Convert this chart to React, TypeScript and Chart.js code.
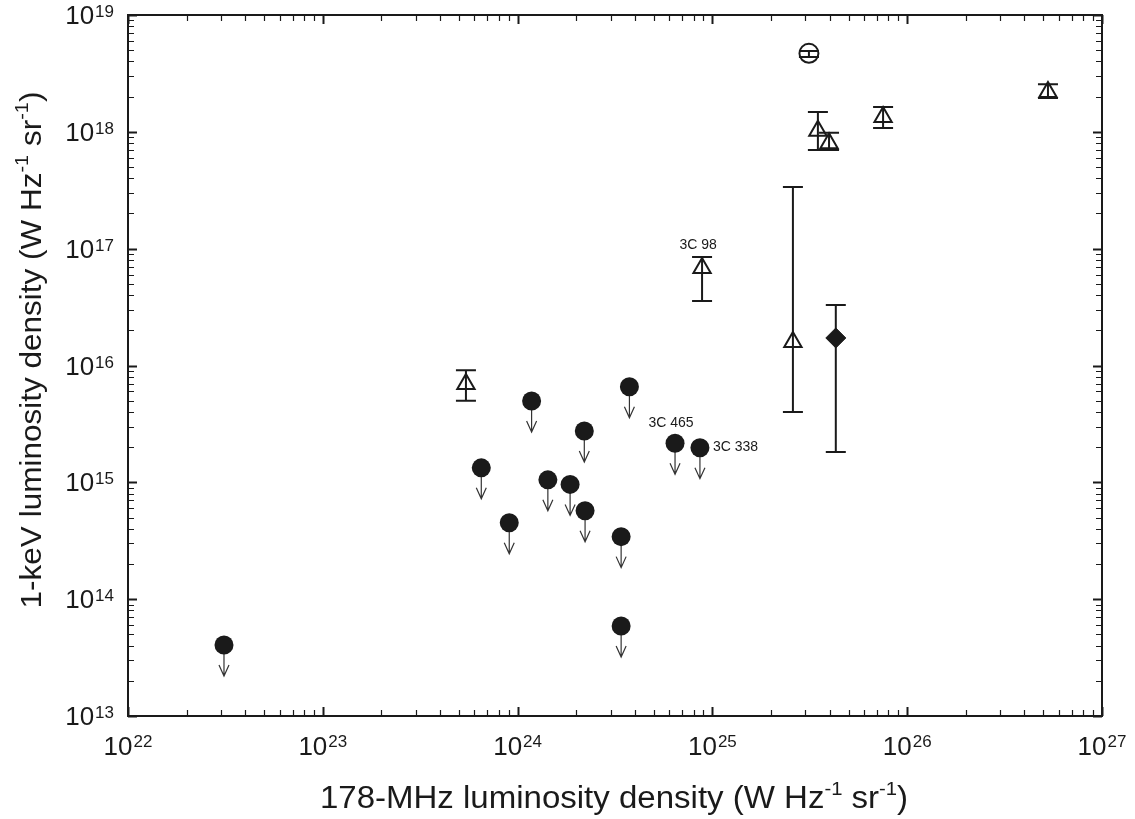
import React, { useEffect, useRef } from 'react';
import { Chart, registerables } from 'chart.js';

Chart.register(...registerables);

// Upper limits (filled circles with downward arrows)
const limitX = [3.11e22, 6.51e23, 9.06e23, 1.18e24, 1.43e24, 1.86e24, 2.2e24, 2.22e24, 3.4e24, 3.4e24, 3.75e24, 6.43e24, 8.63e24];
const limitY = [4.05e13, 1.33e15, 4.51e14, 4.97e15, 1.05e15, 9.6e14, 2.75e15, 5.72e14, 3.43e14, 5.89e13, 6.58e15, 2.16e15, 1.98e15];

// Detections (open triangles with error bars)
const triX = [5.43e23, 8.85e24, 2.59e25, 3.48e25, 3.97e25, 7.52e25, 5.28e26];
const triY = [6.95e15, 6.82e16, 1.59e16, 1.02e18, 8.0e17, 1.34e18, 2.19e18];
const triHi = [9.1e15, 8.5e16, 3.37e17, 1.48e18, 9.8e17, 1.63e18, 2.56e18];
const triLo = [5.0e15, 3.56e16, 4.0e15, 7.0e17, 7.0e17, 1.08e18, 1.95e18];

// Filled diamond
const diaX = [4.3e25];
const diaY = [1.72e16];
const diaHi = [3.3e16];
const diaLo = [1.82e15];

// Open circle
const openX = [3.13e25];
const openY = [4.7e18];
const openHi = [4.92e18];
const openLo = [4.37e18];

const xExponents = [22, 23, 24, 25, 26, 27];
const yExponents = [13, 14, 15, 16, 17, 18, 19];

const xTitleParts: [string, boolean][] = [
  ['178-MHz luminosity density (W Hz', false],
  ['-1', true],
  [' sr', false],
  ['-1', true],
  [')', false],
];
const yTitleParts: [string, boolean][] = [
  ['1-keV luminosity density (W Hz', false],
  ['-1', true],
  [' sr', false],
  ['-1', true],
  [')', false],
];

const sourceLabels = [
  { text: '3C 98', set: 'tri', index: 1 },
  { text: '3C 465', set: 'limit', index: 11 },
  { text: '3C 338', set: 'limit', index: 12 },
];

const FONT = "'Liberation Sans', Arial, Helvetica, sans-serif";
const INK = '#1a1a1a';

function drawParts(ctx: CanvasRenderingContext2D, parts: [string, boolean][], mainSize: number, supSize: number, supRise: number) {
  let w = 0;
  for (const [t, sup] of parts) {
    ctx.font = `${sup ? supSize : mainSize}px ${FONT}`;
    w += ctx.measureText(t).width;
  }
  let x = -w / 2;
  for (const [t, sup] of parts) {
    ctx.font = `${sup ? supSize : mainSize}px ${FONT}`;
    ctx.fillText(t, x, sup ? -supRise : 0);
    x += ctx.measureText(t).width;
  }
}

const decorPlugin = {
  id: 'decor',
  beforeDatasetsDraw(chart: any) {
    const ctx: CanvasRenderingContext2D = chart.ctx;
    const xs = chart.scales.x;
    const ys = chart.scales.y;
    ctx.save();
    ctx.strokeStyle = INK;
    ctx.lineWidth = 2;
    const bars = (X: number[], Hi: number[], Lo: number[]) => {
      for (let i = 0; i < X.length; i++) {
        const px = xs.getPixelForValue(X[i]);
        const ph = ys.getPixelForValue(Hi[i]);
        const pl = ys.getPixelForValue(Lo[i]);
        ctx.beginPath();
        ctx.moveTo(px, ph);
        ctx.lineTo(px, pl);
        ctx.moveTo(px - 10, ph);
        ctx.lineTo(px + 10, ph);
        ctx.moveTo(px - 10, pl);
        ctx.lineTo(px + 10, pl);
        ctx.stroke();
      }
    };
    bars(triX, triHi, triLo);
    bars(diaX, diaHi, diaLo);
    bars(openX, openHi, openLo);

    // upper-limit arrows
    ctx.lineWidth = 1.2;
    ctx.strokeStyle = '#333';
    for (let i = 0; i < limitX.length; i++) {
      const px = xs.getPixelForValue(limitX[i]);
      const py = ys.getPixelForValue(limitY[i]);
      const tip = py + 31;
      ctx.beginPath();
      ctx.moveTo(px, py);
      ctx.lineTo(px, tip);
      ctx.moveTo(px - 5, tip - 11);
      ctx.lineTo(px, tip);
      ctx.lineTo(px + 5, tip - 11);
      ctx.stroke();
    }
    ctx.restore();
  },
  afterDraw(chart: any) {
    const ctx: CanvasRenderingContext2D = chart.ctx;
    const xs = chart.scales.x;
    const ys = chart.scales.y;
    const a = chart.chartArea;
    ctx.save();
    ctx.strokeStyle = INK;
    ctx.fillStyle = INK;

    // frame
    ctx.lineWidth = 2;
    ctx.strokeRect(a.left, a.top, a.right - a.left, a.bottom - a.top);

    // ticks
    const tick = (vals: number[], major: boolean) => {
      ctx.lineWidth = major ? 2 : 1.2;
      const len = major ? 9 : 6;
      ctx.beginPath();
      for (const v of vals) {
        if (v >= 1e22 && v <= 1e27) {
          const px = Math.round(xs.getPixelForValue(v)) + 0.5;
          ctx.moveTo(px, a.bottom);
          ctx.lineTo(px, a.bottom - len);
          ctx.moveTo(px, a.top);
          ctx.lineTo(px, a.top + len);
        }
        if (v >= 1e13 && v <= 1e19) {
          const py = Math.round(ys.getPixelForValue(v)) + 0.5;
          ctx.moveTo(a.left, py);
          ctx.lineTo(a.left + len, py);
          ctx.moveTo(a.right, py);
          ctx.lineTo(a.right - len, py);
        }
      }
      ctx.stroke();
    };
    const majors: number[] = [];
    const minors: number[] = [];
    for (let e = 13; e <= 27; e++) {
      majors.push(Math.pow(10, e));
      if (e < 27) for (let m = 2; m <= 9; m++) minors.push(m * Math.pow(10, e));
    }
    tick(minors, false);
    tick(majors, true);

    // tick labels
    const MAIN = 26;
    const SUP = 17;
    const GAP = 1;
    ctx.textBaseline = 'alphabetic';
    ctx.textAlign = 'left';
    for (const e of xExponents) {
      const px = xs.getPixelForValue(Math.pow(10, e));
      ctx.font = `${MAIN}px ${FONT}`;
      const w1 = ctx.measureText('10').width;
      ctx.font = `${SUP}px ${FONT}`;
      const w2 = ctx.measureText(String(e)).width;
      const x0 = px - (w1 + GAP + w2) / 2;
      ctx.font = `${MAIN}px ${FONT}`;
      ctx.fillText('10', x0, a.bottom + 39);
      ctx.font = `${SUP}px ${FONT}`;
      ctx.fillText(String(e), x0 + w1 + GAP, a.bottom + 31);
    }
    for (const e of yExponents) {
      const py = ys.getPixelForValue(Math.pow(10, e));
      ctx.font = `${SUP}px ${FONT}`;
      const w2 = ctx.measureText(String(e)).width;
      ctx.font = `${MAIN}px ${FONT}`;
      const w1 = ctx.measureText('10').width;
      const right = a.left - 14;
      ctx.fillText('10', right - w2 - GAP - w1, py + 9);
      ctx.font = `${SUP}px ${FONT}`;
      ctx.fillText(String(e), right - w2, py + 2);
    }

    // axis titles
    ctx.save();
    ctx.translate(614, 808);
    ctx.scale(1.065, 1);
    drawParts(ctx, xTitleParts, 31, 19, 13);
    ctx.restore();
    ctx.save();
    ctx.translate(41, 350);
    ctx.rotate(-Math.PI / 2);
    ctx.scale(1.05, 1);
    drawParts(ctx, yTitleParts, 30, 19, 13);
    ctx.restore();

    // source labels
    ctx.font = `14px ${FONT}`;
    for (const l of sourceLabels) {
      const X = l.set === 'tri' ? triX : limitX;
      const Y = l.set === 'tri' ? triY : limitY;
      const px = xs.getPixelForValue(X[l.index]);
      const py = ys.getPixelForValue(Y[l.index]);
      if (l.text === '3C 98') {
        ctx.textAlign = 'center';
        ctx.fillText(l.text, px - 4, py - 19);
      } else if (l.text === '3C 465') {
        ctx.textAlign = 'center';
        ctx.fillText(l.text, px - 4, py - 16);
      } else {
        ctx.textAlign = 'left';
        ctx.fillText(l.text, px + 13, py + 3);
      }
    }
    ctx.restore();
  },
};

export default function App() {
  const ref = useRef<HTMLCanvasElement>(null);
  useEffect(() => {
    if (!ref.current) return;
    const toPts = (X: number[], Y: number[]) => X.map((x, i) => ({ x, y: Y[i] }));
    const chart = new Chart(ref.current, {
      type: 'scatter',
      data: {
        datasets: [
          {
            label: 'upper limits',
            data: toPts(limitX, limitY),
            pointStyle: 'circle',
            pointRadius: 9.5,
            pointBackgroundColor: INK,
            pointBorderColor: INK,
            pointBorderWidth: 0,
          },
          {
            label: 'triangles',
            data: toPts(triX, triY),
            pointStyle: 'triangle',
            pointRadius: 10,
            pointBackgroundColor: 'rgba(0,0,0,0)',
            pointBorderColor: INK,
            pointBorderWidth: 2,
          },
          {
            label: 'diamond',
            data: toPts(diaX, diaY),
            pointStyle: 'rectRot',
            pointRadius: 10,
            pointBackgroundColor: INK,
            pointBorderColor: INK,
            pointBorderWidth: 1,
          },
          {
            label: 'open circle',
            data: toPts(openX, openY),
            pointStyle: 'circle',
            pointRadius: 9.5,
            pointBackgroundColor: 'rgba(0,0,0,0)',
            pointBorderColor: INK,
            pointBorderWidth: 2,
          },
        ],
      },
      options: {
        responsive: false,
        devicePixelRatio: 1,
        animation: false,
        layout: { padding: { left: 128, right: 33, top: 15, bottom: 103 } },
        plugins: { legend: { display: false }, tooltip: { enabled: false } },
        scales: {
          x: { type: 'logarithmic', min: 1e22, max: 1e27, display: false },
          y: { type: 'logarithmic', min: 1e13, max: 1e19, display: false },
        },
      },
      plugins: [decorPlugin],
    });
    return () => chart.destroy();
  }, []);
  return (
    <div style={{ position: 'absolute', left: 0, top: 0, width: 1135, height: 819, background: '#fff' }}>
      <canvas ref={ref} width={1135} height={819} style={{ display: 'block' }} />
    </div>
  );
}
